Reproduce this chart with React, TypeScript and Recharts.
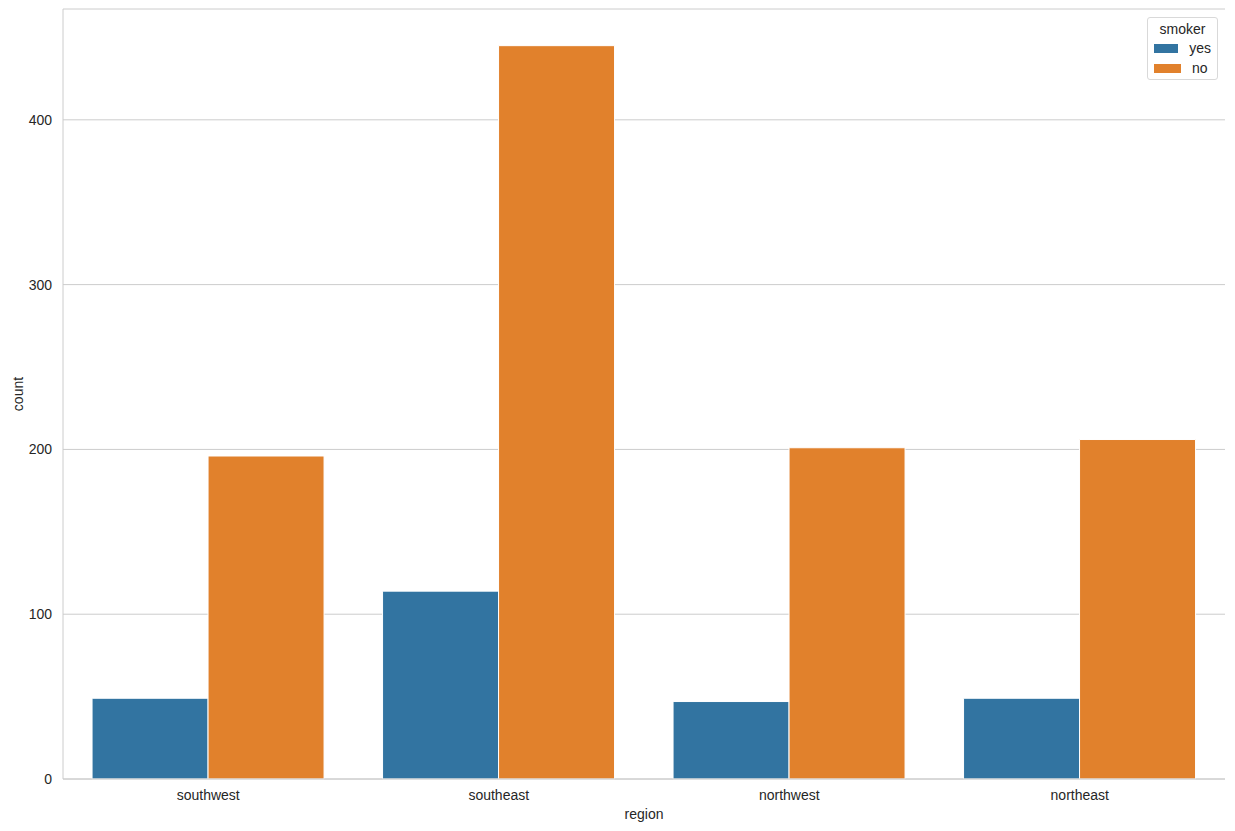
import React from 'react';
import { BarChart, Bar, XAxis, YAxis, CartesianGrid } from 'recharts';

const regions = ['southwest', 'southeast', 'northwest', 'northeast'];
const smokerYes = [49, 114, 47, 49];
const smokerNo = [196, 445, 201, 206];
const yTicks = [0, 100, 200, 300, 400];
const legendItems = ['yes', 'no'];

const data = regions.map((r, i) => ({ region: r, yes: smokerYes[i], no: smokerNo[i] }));

const FONT = '"Liberation Sans", Arial, sans-serif';
const TXT = '#262626';
const BLUE = '#3274A1';
const ORANGE = '#E1812C';
const COLORS = [BLUE, ORANGE];

const LegendBox = () => (
  <div
    style={{
      position: 'absolute',
      left: 1147,
      top: 17,
      width: 71,
      height: 63,
      boxSizing: 'border-box',
      border: '1px solid #d9d9d9',
      borderRadius: 3,
      background: '#fff',
      padding: '2px 6px 0 6px',
      fontFamily: FONT,
      fontSize: 14,
      color: TXT,
    }}
  >
    <div style={{ textAlign: 'center', lineHeight: '18px' }}>smoker</div>
    {legendItems.map((l, i) => (
      <div key={l} style={{ display: 'flex', alignItems: 'center', lineHeight: '20px' }}>
        <span style={{ display: 'inline-block', width: 27, height: 9, background: COLORS[i], marginRight: 11 }} />
        <span>{l}</span>
      </div>
    ))}
  </div>
);

export default function App() {
  return (
    <div style={{ position: 'absolute', left: 0, top: 0, width: 1235, height: 831, background: '#fff' }}>
      <BarChart
        width={1235}
        height={831}
        data={data}
        margin={{ top: 9, right: 10, left: 0, bottom: 0 }}
        barCategoryGap="10%"
        barGap={0}
      >
        <CartesianGrid vertical={false} stroke="#cccccc" strokeWidth={1} />
        <XAxis
          dataKey="region"
          height={52}
          tickLine={false}
          axisLine={{ stroke: '#cccccc' }}
          tickMargin={5}
          tick={{ fill: TXT, fontSize: 14, fontFamily: FONT }}
          label={{ value: 'region', position: 'insideBottom', offset: 12, fill: TXT, fontSize: 14, fontFamily: FONT }}
        />
        <XAxis
          xAxisId="top"
          dataKey="region"
          orientation="top"
          height={0}
          tick={false}
          tickLine={false}
          axisLine={{ stroke: '#cccccc' }}
        />
        <YAxis
          width={63}
          domain={[0, 467.25]}
          ticks={yTicks}
          tickLine={false}
          axisLine={{ stroke: '#cccccc' }}
          tickMargin={5}
          tick={{ fill: TXT, fontSize: 14, fontFamily: FONT }}
          label={{
            value: 'count',
            angle: -90,
            position: 'insideLeft',
            offset: 18,
            fill: TXT,
            fontSize: 14,
            fontFamily: FONT,
            style: { textAnchor: 'middle' },
          }}
        />
        <YAxis
          yAxisId="right"
          orientation="right"
          width={0}
          domain={[0, 467.25]}
          tick={false}
          tickLine={false}
          axisLine={{ stroke: '#cccccc' }}
        />
        <Bar dataKey="yes" fill={BLUE} stroke="#ffffff" strokeWidth={1} isAnimationActive={false} />
        <Bar dataKey="no" fill={ORANGE} stroke="#ffffff" strokeWidth={1} isAnimationActive={false} />
      </BarChart>
      <LegendBox />
    </div>
  );
}
